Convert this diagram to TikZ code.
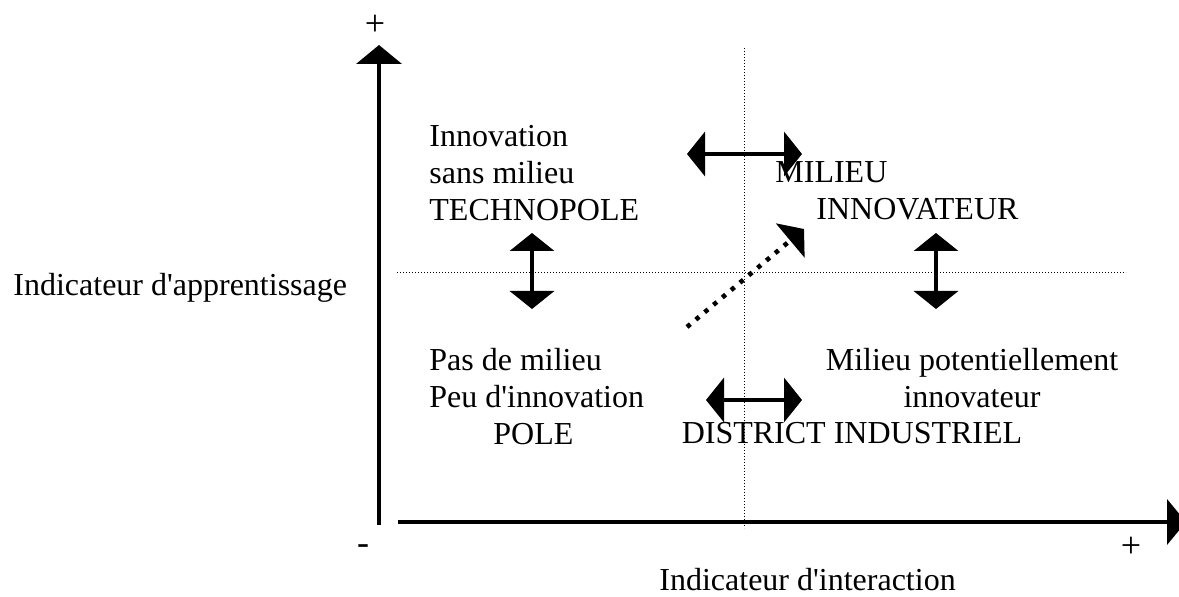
\documentclass[tikz,border=0pt]{standalone}
\usepackage{fontspec}
\setmainfont{Liberation Serif}
\usepackage{tikz}
\usetikzlibrary{arrows.meta,positioning}
\tikzset{
  axisline/.style={ line width=2.25pt, -{Triangle[length=9.5pt,width=22.5pt]} }
}
\tikzset{
  twoway/.style={ line width=2pt, {Triangle[length=9pt,width=22pt]}-{Triangle[length=9pt,width=22pt]} }
}
\tikzset{
  guide/.style={ line width=0.5pt, dash pattern=on 0.6pt off 0.9pt }
}
\tikzset{
  shiftarrow/.style={ line width=2.3pt, dash pattern=on 2.2pt off 3.55pt, -{Triangle[length=9pt,width=22pt]} }
}
\tikzset{
  lbl/.style={ font=\fontsize{16pt}{18.5pt}\selectfont, inner sep=0pt }
}
\tikzset{
  sign/.style={ font=\fontsize{18pt}{18pt}\selectfont, inner sep=0pt }
}
\newcommand{\apos}{\textquotesingle{}}
\begin{document}
\begin{tikzpicture}[x=0.5pt, y=-0.5pt]
      \useasboundingbox (0, 0) rectangle (1179, 597);

      % axes
      \coordinate (o) at (379, 525);
      \coordinate (ytop) at (379, 45);
      \coordinate (xleft) at (398, 522);
      \coordinate (xright) at (1186, 522);
      \draw[axisline] (o) -- (ytop);
      \draw[axisline] (xleft) -- (xright);
      \node[sign] (yplus) at (375, 25) {+};
      \node[sign] (xminus) at (363, 550) {-};
      \node[sign] (xplus) at (1131, 547) {+};
      \node[lbl, anchor=base west] (yname) at (13, 296) {Indicateur d\apos apprentissage};
      \node[lbl, anchor=base west] (xname) at (659, 591) {Indicateur d\apos interaction};

      % quadrant lines
      \coordinate (vtop) at (744, 48);
      \coordinate (vbot) at (744, 528);
      \coordinate (hleft) at (397, 273);
      \coordinate (hright) at (1126, 273);
      \draw[guide] (vtop) -- (vbot);
      \draw[guide] (hleft) -- (hright);

      % quadrants (base = last line)
      \node[lbl, align=left, anchor=base west] (techno) at (429, 221) {Innovation\\sans milieu\\TECHNOPOLE};
      \node[lbl, align=left, anchor=base west] (milinno) at (775, 220) {MILIEU\\\hspace*{20.5pt}INNOVATEUR};
      \node[lbl, align=left, anchor=base west] (pole) at (429, 445) {Pas de milieu\\Peu d\apos innovation\\\hspace*{32pt}POLE};
      \node[lbl, align=center, anchor=base] (milpot) at (972, 408) {Milieu potentiellement\\innovateur};
      \node[lbl, anchor=base] (district) at (852, 444) {DISTRICT INDUSTRIEL};

      % moves between quadrants
      \coordinate (ltop) at (532, 233);
      \coordinate (lbot) at (532, 309);
      \coordinate (rtop) at (936, 233);
      \coordinate (rbot) at (936, 309);
      \coordinate (uleft) at (687, 154);
      \coordinate (uright) at (802, 154);
      \coordinate (dleft) at (706, 400);
      \coordinate (dright) at (802, 400);
      \draw[twoway] (ltop) -- (lbot);
      \draw[twoway] (rtop) -- (rbot);
      \draw[twoway] (uleft) -- (uright);
      \draw[twoway] (dleft) -- (dright);

      \coordinate (sfrom) at (687, 327);
      \coordinate (sto) at (804, 229);
      \draw[shiftarrow] (sfrom) -- (sto);
    \end{tikzpicture}
\end{document}
